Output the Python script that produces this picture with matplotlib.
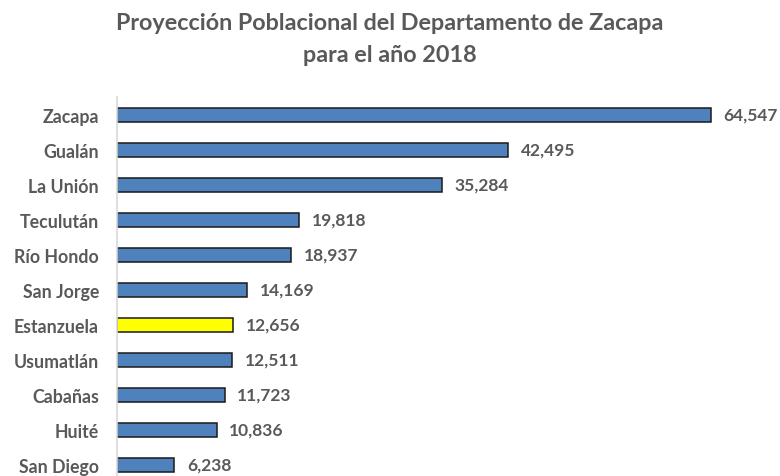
import matplotlib.pyplot as plt

# Municipios y población proyectada (2018)
municipios = ['Zacapa', 'Gualán', 'La Unión', 'Teculután', 'Río Hondo', 'San Jorge',
              'Estanzuela', 'Usumatlán', 'Cabañas', 'Huité', 'San Diego']
poblacion = [64547, 42495, 35284, 19818, 18937, 14169, 12656, 12511, 11723, 10836, 6238]
resaltado = 'Estanzuela'

plt.rcParams['font.family'] = ['Lato', 'DejaVu Sans']
texto = '#595959'

fig = plt.figure(figsize=(7.8, 4.77), dpi=100)
ax = fig.add_axes([117 / 780, 0, 647 / 780, 379 / 477])

n = len(municipios)
ys = list(range(n - 1, -1, -1))
colores = ['#FFFF00' if m == resaltado else '#4F81BD' for m in municipios]
ax.barh(ys, poblacion, height=0.38, color=colores, edgecolor='#1a1a1a', linewidth=1.1)

for y, v in zip(ys, poblacion):
    ax.annotate(f'{v:,}', (v, y), xytext=(9, 0), textcoords='offset points',
                va='center', ha='left', fontsize=12.5, fontweight='bold', color=texto)

ax.set_xlim(0, 70300)
ax.set_ylim(-0.314, n - 1 + 0.514)
ax.set_yticks(ys)
ax.set_yticklabels(municipios, fontsize=12.8, fontweight='bold', color=texto)
ax.tick_params(axis='y', length=0, pad=13)
ax.set_xticks([])
for s in ['top', 'right', 'bottom']:
    ax.spines[s].set_visible(False)
ax.spines['left'].set_color('#d9d9d9')
ax.spines['left'].set_linewidth(1.2)

fig.text(0.5, 1 - 23 / 477, 'Proyección Poblacional del Departamento de Zacapa',
         ha='center', va='center', fontsize=16.8, fontweight='bold', color=texto)
fig.text(0.5, 1 - 56 / 477, 'para el año 2018',
         ha='center', va='center', fontsize=16.8, fontweight='bold', color=texto)

fig.savefig('out.png', dpi=100)
